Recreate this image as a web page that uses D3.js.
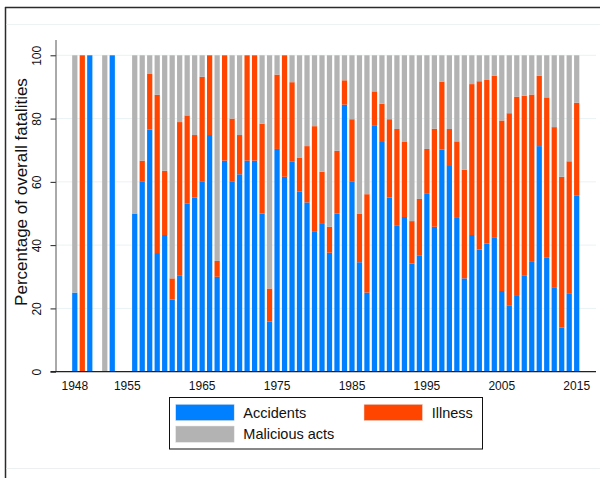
<!DOCTYPE html>
<html>
<head>
<meta charset="utf-8">
<script src="https://cdn.jsdelivr.net/npm/d3@7"></script>
<style>
  html, body { margin: 0; padding: 0; background: #fff; }
  svg { display: block; font-family: "Liberation Sans", Arial, Helvetica, sans-serif; }
</style>
</head>
<body>
<svg id="chart" width="600" height="478"></svg>
<script>
// ---- Data (percent of overall fatalities) ----
const years = [1948,1949,1950,1952,1953,
  1956,1957,1958,1959,1960,1961,1962,1963,1964,1965,1966,1967,1968,1969,1970,
  1971,1972,1973,1974,1975,1976,1977,1978,1979,1980,1981,1982,1983,1984,1985,
  1986,1987,1988,1989,1990,1991,1992,1993,1994,1995,1996,1997,1998,1999,2000,
  2001,2002,2003,2004,2005,2006,2007,2008,2009,2010,2011,2012,2013,2014,2015];
const accidents = [25,0,100,0,100,
  50,60,76.5,37.5,43.2,22.8,30.3,53.2,55,60,74.8,30,66.7,60,62.4,
  66.7,66.7,50,15.8,70.4,61.6,66.5,57,53.5,44.4,46.7,37.6,50,84.4,60,
  34.6,25,77.7,72.6,55,46.1,48.9,34.2,36.8,56.4,45.8,70.2,65.3,48.6,29.5,
  43.2,38.6,40.5,42.3,25.5,21,24.2,30.3,34.7,71.3,36,26.7,14,24.6,55.6];
const illness = [0,100,0,0,0,
  0,6.7,17.6,50,20.3,6.7,48.6,27.8,19.8,33.2,25.2,5,33.3,20,12.4,
  33.3,33.3,28.4,10.5,23.5,38.4,25,10.7,17.8,33.2,16.5,8.2,19.8,7.7,19.8,
  15.4,31.1,10.9,12.1,24.8,30.6,23.7,13.4,17.8,14,31,21.5,11.4,24.2,34.3,
  47.7,53.2,51.7,51.2,53.9,60.7,62.7,56.9,52.9,22.2,50.7,50.6,47.6,41.9,29.4];
const malicious = [75,0,0,100,0,
  50,33.3,5.9,12.5,36.5,70.5,21.1,19,25.2,6.8,0,65,0,20,25.2,
  0,0,21.6,73.7,6.1,0,8.5,32.3,28.7,22.4,36.8,54.2,30.2,7.9,20.2,
  50,43.9,11.4,15.3,20.2,23.3,27.4,52.4,45.4,29.6,23.2,8.3,23.3,27.2,36.2,
  9.1,8.2,7.8,6.5,20.6,18.3,13.1,12.8,12.4,6.5,13.3,22.7,38.4,33.5,15];
const seriesNames = ["Accidents", "Illness", "Malicious acts"];
const seriesColors = ["#007fff", "#ff4500", "#b3b3b3"];
const yTicks = [0, 20, 40, 60, 80, 100];
const xTickLabels = [1948, 1955, 1965, 1975, 1985, 1995, 2005, 2015];
const yTitle = "Percentage of overall fatalities";

// ---- Setup ----
const svg = d3.select("#chart");
const keys = ["accidents", "illness", "malicious"];
const rows = years.map((yr, i) => ({
  year: yr, accidents: accidents[i], illness: illness[i], malicious: malicious[i]
}));

const plot = { left: 56, right: 596, top: 40 };
const x = d3.scaleBand()
  .domain(d3.range(1948, 2016))
  .range([71.05, 580.45])
  .paddingInner(0.3)
  .paddingOuter(0.15);
const y = d3.scaleLinear().domain([0, 100]).range([371.7, 55.3]);

// ---- Page frame ----
svg.append("line").attr("x1", 5.5).attr("x2", 5.5).attr("y1", 7).attr("y2", 478)
  .attr("stroke", "#2b2b2b").attr("stroke-width", 1.5);
svg.append("line").attr("x1", 5).attr("x2", 600).attr("y1", 7.5).attr("y2", 7.5)
  .attr("stroke", "#2b2b2b").attr("stroke-width", 1.5);
svg.append("line").attr("x1", 6.5).attr("x2", 600).attr("y1", 24.5).attr("y2", 24.5)
  .attr("stroke", "#edf2f2").attr("stroke-width", 1);
svg.append("line").attr("x1", 6.5).attr("x2", 600).attr("y1", 468.5).attr("y2", 468.5)
  .attr("stroke", "#edf0f0").attr("stroke-width", 1);

// ---- Gridlines ----
svg.append("g").selectAll("line").data(yTicks).join("line")
  .attr("x1", plot.left).attr("x2", plot.right)
  .attr("y1", d => y(d)).attr("y2", d => y(d))
  .attr("stroke", "#eaf2f3").attr("stroke-width", 1);

// ---- Stacked bars ----
const stacked = d3.stack().keys(keys)(rows);
svg.append("g").selectAll("g").data(stacked).join("g")
  .attr("fill", (d, i) => seriesColors[i])
  .selectAll("rect").data(d => d.filter(s => s[1] - s[0] > 0)).join("rect")
  .attr("x", d => x(d.data.year))
  .attr("width", x.bandwidth())
  .attr("y", d => y(d[1]))
  .attr("height", d => y(d[0]) - y(d[1]));

// ---- Y axis ----
const yAxis = d3.axisLeft(y).tickValues(yTicks).tickSize(5.5).tickPadding(0).tickFormat(d3.format("d"));
const gy = svg.append("g").attr("transform", `translate(${plot.left},0)`).call(yAxis);
gy.select(".domain").remove();
gy.selectAll(".tick line").attr("stroke", "#222");
gy.selectAll(".tick text")
  .attr("font-size", 12).attr("fill", "#111")
  .attr("text-anchor", "middle")
  .attr("x", null).attr("dy", null)
  .attr("transform", "translate(-15,0) rotate(-90)");
svg.append("line").attr("x1", plot.left).attr("x2", plot.left)
  .attr("y1", plot.top).attr("y2", y(0))
  .attr("stroke", "#555").attr("stroke-width", 1);

// ---- X axis ----
const xAxis = d3.axisBottom(x).tickValues(xTickLabels).tickSize(0).tickPadding(10);
const gx = svg.append("g").attr("transform", `translate(0,${y(0)})`).call(xAxis);
gx.select(".domain").remove();
gx.selectAll(".tick text").attr("font-size", 12).attr("fill", "#111");
svg.append("line").attr("x1", 50.5).attr("x2", plot.right)
  .attr("y1", y(0)).attr("y2", y(0))
  .attr("stroke", "#222").attr("stroke-width", 1.2);

// ---- Y title ----
svg.append("text")
  .attr("transform", "translate(27,192) rotate(-90)")
  .attr("text-anchor", "middle")
  .attr("font-size", 17)
  .attr("fill", "#111")
  .text(yTitle);

// ---- Legend ----
const lg = svg.append("g");
lg.append("rect").attr("x", 169.5).attr("y", 397.5).attr("width", 313).attr("height", 51.5)
  .attr("fill", "#fff").attr("stroke", "#111").attr("stroke-width", 1);
const legendPos = [
  { sx: 175.7, sy: 404.3, tx: 243.3, ty: 417.5 },
  { sx: 364, sy: 404.3, tx: 431.7, ty: 417.5 },
  { sx: 175.7, sy: 426, tx: 243.3, ty: 439.3 }
];
seriesNames.forEach((name, i) => {
  const p = legendPos[i];
  lg.append("rect").attr("x", p.sx).attr("y", p.sy).attr("width", 58.5).attr("height", 16.3)
    .attr("fill", seriesColors[i]).attr("stroke", "#e6e6e6").attr("stroke-width", 0.5);
  lg.append("text").attr("x", p.tx).attr("y", p.ty)
    .attr("font-size", 14.5).attr("fill", "#111").text(name);
});
</script>
</body>
</html>
